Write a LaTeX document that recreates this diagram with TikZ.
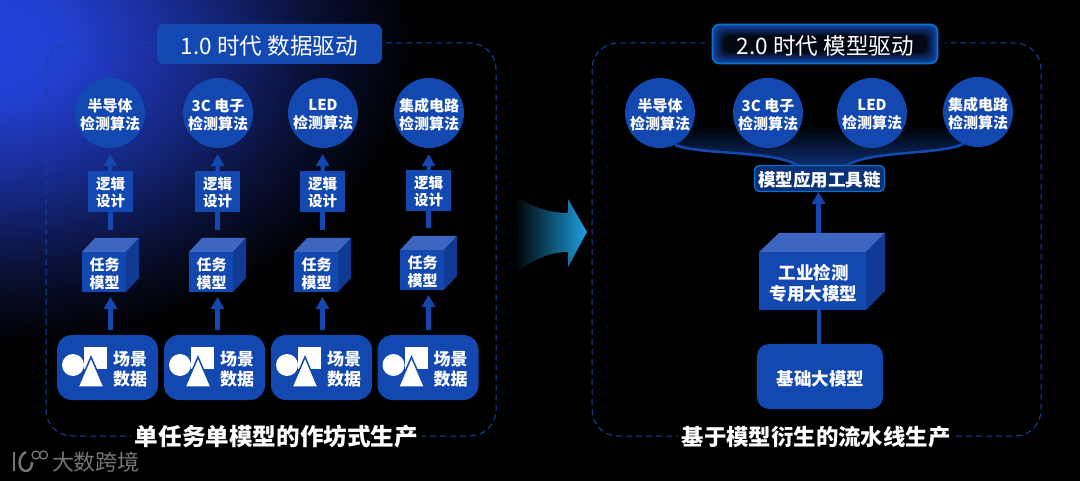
\documentclass[tikz,border=0pt]{standalone}
\usepackage{fontspec}
\usepackage{xcolor}
\usetikzlibrary{arrows.meta, positioning, shapes}
\setmainfont{Noto Sans CJK SC}
\definecolor{myblue}{RGB}{19, 72, 176}
\definecolor{mytop}{RGB}{60, 102, 192}
\definecolor{myside}{RGB}{16, 58, 148}
\definecolor{mydash}{RGB}{24, 66, 160}
\definecolor{mycyan}{RGB}{10, 112, 200}
\definecolor{myglow}{RGB}{36, 66, 218}
\definecolor{myarrow}{RGB}{30, 160, 225}
\definecolor{mymark}{RGB}{118, 118, 118}
\pgfdeclareradialshading{bgglow}{\pgfpoint{0bp}{0bp}}{
  color(0bp)=(myglow); color(5bp)=(myglow!95!black); color(12bp)=(myglow!62!black);
  color(19bp)=(myglow!24!black); color(25bp)=(black); color(50bp)=(black)}
\tikzset{
  circnode/.style={circle,fill=myblue,minimum size=70pt,inner sep=0pt},
  circtext/.style={align=center,text=white,inner sep=0pt,font=\fontsize{15}{18}\selectfont\bfseries},
  logicbox/.style={rectangle,fill=myblue,minimum width=45pt,minimum height=41pt,inner sep=0pt},
  logictext/.style={align=center,text=white,inner sep=0pt,font=\fontsize{14.5}{17}\selectfont\bfseries},
  cubebox/.style={rectangle,fill=myblue,inner sep=0pt},
  cubetext/.style={align=center,text=white,inner sep=0pt,font=\fontsize{15}{18}\selectfont\bfseries},
  scenebox/.style={rectangle,rounded corners=15pt,fill=myblue,minimum width=101pt,minimum height=65pt,inner sep=0pt},
  scenetext/.style={align=center,text=white,inner sep=0pt,font=\fontsize{17}{20}\selectfont\bfseries},
  bigtext/.style={align=center,text=white,inner sep=0pt,font=\fontsize{17.5}{21}\selectfont\bfseries},
  upflow/.style={myblue,line width=4.2pt,-{Triangle[width=13pt,length=12pt]}},
  frame/.style={mydash,line width=1pt,dash pattern=on 6pt off 4pt,rounded corners=26pt},
  headtext/.style={text=white,inner sep=0pt,font=\fontsize{22.6}{28}\selectfont},
  foottext/.style={fill=black,text=white,inner xsep=4pt,inner ysep=1pt}
}
\begin{document}
\begin{tikzpicture}[x=1pt,y=-1pt]
  \useasboundingbox (0,0) rectangle (1080,481);
  \fill[black] (0,0) rectangle (1080,481);
  \begin{scope}
    \clip (0,0) rectangle (1080,481);
    \shade[shading=bgglow] (-15,45) ellipse (430 and 300);
  \end{scope}
  % dashed frames
  \draw[frame] (46,43) rectangle (496,436);
  \draw[frame] (592,43) rectangle (1041,436);
  % header left
  \node[rectangle,rounded corners=7pt,fill=myblue,minimum width=225pt,minimum height=40pt,inner sep=0pt] (headl) at (269.5,44) {};
  \node[headtext] (headltext) at (269.5,45.5) {1.0 时代 数据驱动};
  % header right, dark in the middle
  \fill[black] (705,24) rectangle (945,64);
  \foreach \k in {0,...,9}{
    \pgfmathsetmacro{\mixv}{100-\k*10}
    \fill[myblue!\mixv!black,rounded corners=7pt] (712+\k*1.3,24+\k*1.3) rectangle (938-\k*1.3,64-\k*1.3);
  }
  \node[rectangle,rounded corners=7pt,draw=mycyan,line width=1.6pt,minimum width=225pt,minimum height=39pt,inner sep=0pt] (headr) at (825,44) {};
  \node[headtext] (headrtext) at (825.5,45.5) {2.0 时代 模型驱动};
  % four single lines on the left
  \foreach \i/\cx/\lx/\fx/\sx/\dy/\ctext in {1/110/110.5/82/57/0/半导体,2/218/217.5/189/164/0/3C 电子,3/323/322.5/294/271/0/LED,4/429/428.5/400/377.5/-2/集成电路}{
    \node[circnode] (circ\i) at (\cx,113) {};
    \node[circtext] (ctext\i) at (\cx,114.5) {\ctext\\检测算法};
    \node[logicbox] (logic\i) at (\lx,191.5+\dy/2) {};
    \node[logictext] (ltext\i) at (\lx,193+\dy/2) {逻辑\\设计};
    \draw[upflow,shorten >=6pt] (logic\i) -- (circ\i);
    % cube
    \fill[mytop] (\fx,252+\dy) -- ++(13,-14) -- ++(44,0) -- ++(-13,14) -- cycle;
    \fill[myside] (\fx+44,252+\dy) -- ++(13,-14) -- ++(0,40) -- ++(-13,14) -- cycle;
    \node[cubebox,minimum width=44pt,minimum height=40pt] (cube\i) at (\fx+22,272+\dy) {};
    \node[cubetext] (cubetext\i) at (\fx+22.5,274+\dy) {任务\\模型};
    \coordinate (cubetop\i) at (\lx,238+\dy);
    \draw[myblue,line width=4.2pt,shorten >=8pt] (logic\i.south) -- (cubetop\i);
    % scene box
    \node[scenebox] (scene\i) at (\sx+50.5,367.5) {};
    \fill[white] (\sx+16,365) circle (11);
    \fill[white] (\sx+27,347) rectangle (\sx+50,369);
    \filldraw[white,draw=myblue,line width=1.5pt] (\sx+34,357) -- (\sx+21,387) -- (\sx+47,387) -- cycle;
    \node[scenetext] (stext\i) at (\sx+73,369) {场景\\数据};
    \coordinate (sflow\i) at (\lx,335);
    \coordinate (cflow\i) at (\lx,292+\dy);
    \draw[upflow,shorten <=5pt,shorten >=5pt] (sflow\i) -- (cflow\i);
  }
  % glow under the right circles
  \shade[top color=black,bottom color=myblue!62!black] (675,125) -- (967,125) -- (967,145) .. controls (925,156) and (875,150) .. (847,165) -- (797,165) .. controls (765,150) and (715,156) .. (675,145) -- cycle;
  % right circles
  \foreach \i/\cx/\cy/\ctext in {1/660/113/半导体,2/768/113/3C 电子,3/872/113/LED,4/978/112/集成电路}{
    \node[circnode] (rcirc\i) at (\cx,\cy) {};
    \node[circtext] (rtext\i) at (\cx,\cy+1.5) {\ctext\\检测算法};
  }
  % tool chain
  \node[rectangle,rounded corners=5pt,fill=myblue!68!black,draw=mycyan,line width=1.4pt,minimum width=130pt,minimum height=26pt,inner sep=0pt] (tool) at (819.5,178.5) {};
  \node[text=white,inner sep=0pt,font=\fontsize{17.5}{20}\selectfont\bfseries] (tooltext) at (819.5,180) {模型应用工具链};
  \coordinate (toolleft) at (797,165);
  \coordinate (toolright) at (847,165);
  \draw[myblue,line width=2.6pt] (rcirc1.-65) .. controls (700,155) and (770,150) .. (toolleft);
  \draw[myblue,line width=2.6pt] (rcirc4.-115) .. controls (940,155) and (875,150) .. (toolright);
  % big cube
  \fill[mytop] (759,252) -- (779,233) -- (885,233) -- (866,252) -- cycle;
  \fill[myside] (866,252) -- (885,233) -- (885,291) -- (866,310) -- cycle;
  \node[cubebox,minimum width=107pt,minimum height=58pt] (bigcube) at (812.5,281) {};
  \node[bigtext] (bigtext) at (813.5,283) {工业检测\\专用大模型};
  \coordinate (bigtop) at (818.5,233);
  \coordinate (toolin) at (818.5,192);
  \draw[upflow] (bigtop) -- (toolin);
  % base model
  \node[rectangle,rounded corners=12pt,fill=myblue,minimum width=126pt,minimum height=65pt,inner sep=0pt] (base) at (820,376.5) {};
  \node[bigtext] (basetext) at (820.5,378.5) {基础大模型};
  \coordinate (bigbot) at (819,310);
  \draw[myblue,line width=4.2pt] (base.north -| bigbot) -- (bigbot);
  % big arrow in the middle
  \shade[left color=black,right color=myarrow] (515,195) .. controls (530,207) and (550,213) .. (568,213) -- (568,199) -- (587,232) -- (568,267) -- (568,252) .. controls (550,252) and (530,260) .. (515,275) -- cycle;
  % footers
  \node[foottext,font=\fontsize{23.6}{26}\selectfont\bfseries] (footl) at (276.5,437) {单任务单模型的作坊式生产};
  \node[foottext,font=\fontsize{22.4}{26}\selectfont\bfseries] (footr) at (816,437) {基于模型衍生的流水线生产};
  % watermark
  \node[text=mymark,inner sep=0pt,font=\fontsize{22}{26}\selectfont] (mark) at (96,462) {大数跨境};
  \draw[mymark,line width=2.6pt] (14,452) -- (14,471);
  \draw[mymark,line width=2.4pt] (26,452) .. controls (17,456) and (18,471) .. (26,471) .. controls (30,471) and (32,467) .. (32,462);
  \draw[mymark,line width=1.2pt] (36,455) circle (4);
  \draw[mymark,line width=1.2pt] (43.5,455) circle (4);
\end{tikzpicture}
\end{document}
